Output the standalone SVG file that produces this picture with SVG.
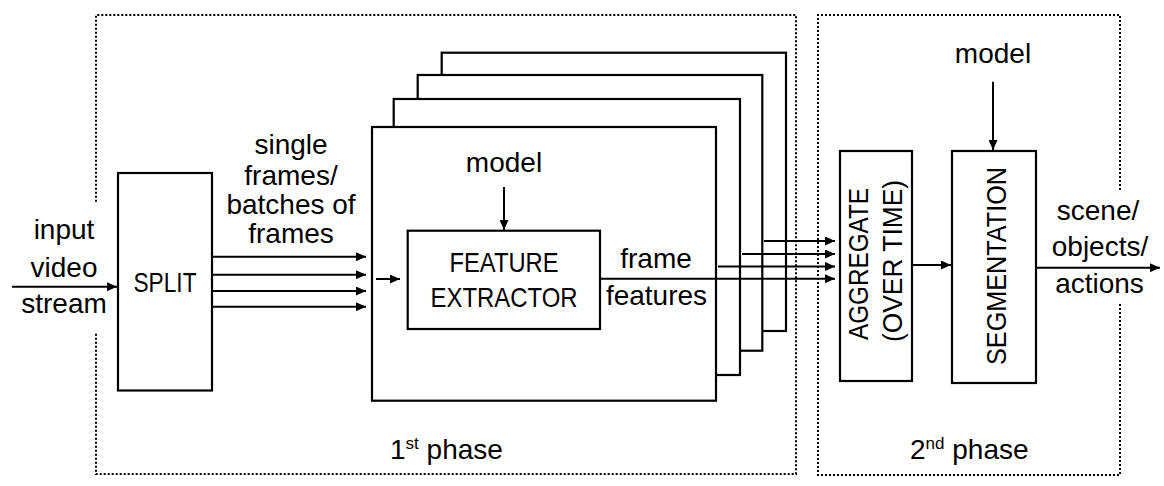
<svg xmlns="http://www.w3.org/2000/svg" width="1164" height="486" viewBox="0 0 1164 486">
<style>
.box{fill:#fff;stroke:#000;stroke-width:2.2}
.dot{fill:none;stroke:#000;stroke-width:2;stroke-dasharray:2 2}
.ln{fill:none;stroke:#000;stroke-width:2}
text{font-family:"Liberation Sans",Arial,sans-serif;font-size:28px;fill:#000}
.m{text-anchor:middle}
.sup{font-size:17px}
</style>
<defs>
<marker id="ah" markerUnits="userSpaceOnUse" markerWidth="10" markerHeight="9" refX="10" refY="4.5" orient="auto">
<path d="M0,0 L10,4.5 L0,9 Z" fill="#000"/>
</marker>
</defs>
<g id="phase1">
<path class="dot" d="M96,201.7 V15 H796 V474 H96 V333"/>
<text x="390" y="459">1<tspan class="sup" dy="-10">st</tspan><tspan dy="10"> phase</tspan></text>
</g>
<g id="phase2">
<path class="dot" d="M1120,190 V15 H818 V475 H1120 V302"/>
<text x="910" y="459">2<tspan class="sup" dy="-10">nd</tspan><tspan dy="10"> phase</tspan></text>
</g>
<g id="input-label">
<text class="m" x="64" y="239">input</text>
<text class="m" x="64" y="277">video</text>
<text class="m" x="64" y="313">stream</text>
</g>
<g id="split">
<rect class="box" x="118" y="173" width="94" height="217.5"/>
<text class="m" x="165" y="292" textLength="63" lengthAdjust="spacingAndGlyphs">SPLIT</text>
</g>
<g id="frames-label">
<text class="m" x="291" y="154">single</text>
<text class="m" x="291" y="185">frames/</text>
<text class="m" x="291" y="214">batches of</text>
<text class="m" x="291" y="243">frames</text>
</g>
<g id="extractor-stack">
<rect class="box" x="441.7" y="52.7" width="344.3" height="278.3"/>
<rect class="box" x="417.7" y="75" width="344.6" height="275.7"/>
<rect class="box" x="393.7" y="99" width="346.3" height="276"/>
<rect class="box" x="372" y="127" width="344" height="273.7"/>
<text class="m" x="504" y="172">model</text>
</g>
<g id="feature-extractor">
<rect class="box" x="407.7" y="230.7" width="192.3" height="98.3"/>
<text class="m" x="504" y="272" textLength="109" lengthAdjust="spacingAndGlyphs">FEATURE</text>
<text class="m" x="504" y="307" textLength="147" lengthAdjust="spacingAndGlyphs">EXTRACTOR</text>
</g>
<g id="frame-features-label">
<text class="m" x="656" y="268">frame</text>
<text class="m" x="656.5" y="305">features</text>
</g>
<g id="aggregate">
<rect class="box" x="840" y="151" width="72" height="230"/>
<text class="m" transform="translate(868,264) rotate(-90)" textLength="152" lengthAdjust="spacingAndGlyphs">AGGREGATE</text>
<text class="m" transform="translate(902,261) rotate(-90)" textLength="162" lengthAdjust="spacingAndGlyphs">(OVER TIME)</text>
</g>
<g id="segmentation">
<rect class="box" x="952" y="151" width="84" height="232"/>
<text class="m" transform="translate(1006,266) rotate(-90)" textLength="198" lengthAdjust="spacingAndGlyphs">SEGMENTATION</text>
<text class="m" x="993" y="63">model</text>
</g>
<g id="output-label">
<text class="m" x="1098" y="220">scene/</text>
<text class="m" x="1100" y="256">objects/</text>
<text class="m" x="1099.5" y="293">actions</text>
</g>
<g id="connectors">
<line class="ln" x1="12" y1="286.7" x2="117" y2="286.7" marker-end="url(#ah)"/>
<line class="ln" x1="212" y1="256.7" x2="366" y2="256.7" marker-end="url(#ah)"/>
<line class="ln" x1="212" y1="274.7" x2="366" y2="274.7" marker-end="url(#ah)"/>
<line class="ln" x1="212" y1="291" x2="366" y2="291" marker-end="url(#ah)"/>
<line class="ln" x1="212" y1="306.7" x2="366" y2="306.7" marker-end="url(#ah)"/>
<line class="ln" x1="376" y1="279" x2="400" y2="279" marker-end="url(#ah)"/>
<line class="ln" x1="504" y1="187" x2="504" y2="230" marker-end="url(#ah)"/>
<line class="ln" x1="764" y1="241" x2="835" y2="241" marker-end="url(#ah)"/>
<line class="ln" x1="742" y1="254" x2="835" y2="254" marker-end="url(#ah)"/>
<line class="ln" x1="718" y1="266.5" x2="835" y2="266.5" marker-end="url(#ah)"/>
<line class="ln" x1="600" y1="278.7" x2="835" y2="278.7" marker-end="url(#ah)"/>
<line class="ln" x1="912" y1="265" x2="951" y2="265" marker-end="url(#ah)"/>
<line class="ln" x1="993" y1="81.7" x2="993" y2="150" marker-end="url(#ah)"/>
<line class="ln" x1="1036" y1="267.7" x2="1160" y2="267.7" marker-end="url(#ah)"/>
</g>
</svg>
